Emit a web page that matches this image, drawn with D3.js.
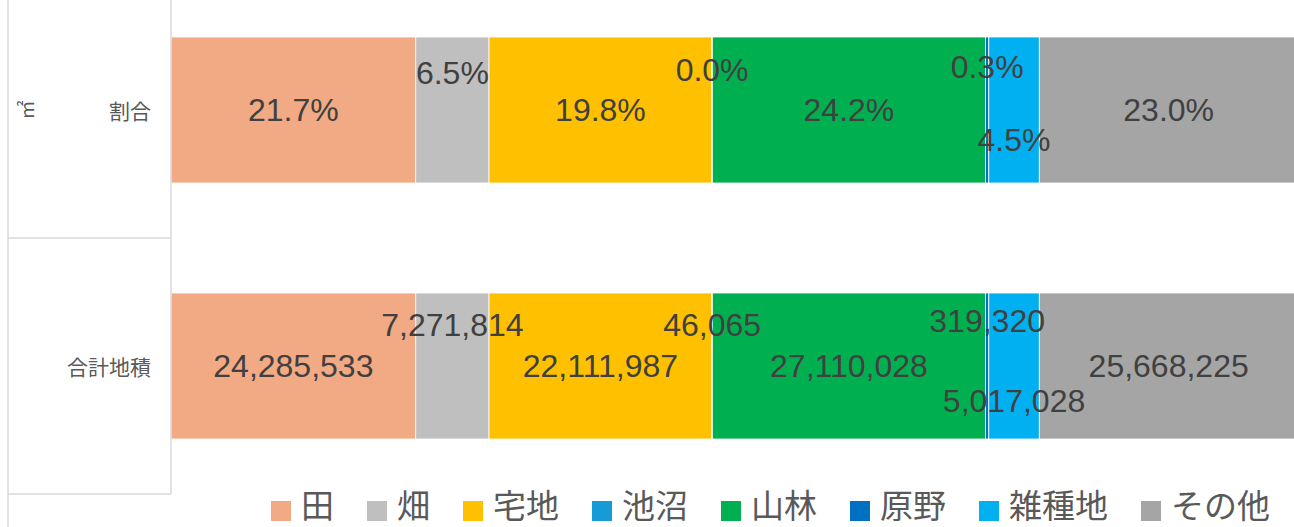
<!DOCTYPE html>
<html>
<head>
<meta charset="utf-8">
<script src="https://cdn.jsdelivr.net/npm/d3@7"></script>
<style>
  html, body { margin: 0; padding: 0; background: #fff; overflow: hidden; }
  svg { display: block; }
</style>
</head>
<body>
<svg id="chart" width="1294" height="527"></svg>
<script>
// ---- data ----
const categories = ["割合", "合計地積"];
const outerGroups = ["㎡", ""];
const seriesNames = ["田", "畑", "宅地", "池沼", "山林", "原野", "雑種地", "その他"];
const areaValues = [24285533, 7271814, 22111987, 46065, 27110028, 319320, 5017028, 25668225];
const percentLabels = ["21.7%", "6.5%", "19.8%", "0.0%", "24.2%", "0.3%", "4.5%", "23.0%"];
const seriesColors = ["#F2AA84", "#BFBFBF", "#FFC000", "#179BD7", "#00B050", "#0070C0", "#00B0F0", "#A5A5A5"];

// label vertical shifts (moved labels), per row
const labelShift = [
  [0, -37, 0, -40, 0, -43, 30, 0],
  [0, -41, 0, -41, 0, -45, 35, 0]
];

const svg = d3.select("#chart");
const total = d3.sum(areaValues);

const plotLeft = 171, plotRight = 1298, plotTop = -18, plotBottom = 494;
const x = d3.scaleLinear().domain([0, total]).range([plotLeft, plotRight]);
const y = d3.scaleBand().domain(categories).range([plotTop, plotBottom])
  .paddingInner(0.4297).paddingOuter(0.2148);

const gridColor = "#D9D9D9";
const textGray = "#595959";

// stacked data
const stacked = [];
categories.forEach((cat, ci) => {
  let acc = 0;
  areaValues.forEach((v, si) => {
    stacked.push({cat, ci, si, x0: acc, x1: acc + v,
      label: ci === 0 ? percentLabels[si] : d3.format(",")(v)});
    acc += v;
  });
});

// bars
svg.append("g").selectAll("rect").data(stacked).join("rect")
  .attr("x", d => x(d.x0))
  .attr("y", d => y(d.cat))
  .attr("width", d => Math.max(0, x(d.x1) - x(d.x0)))
  .attr("height", y.bandwidth())
  .attr("fill", d => seriesColors[d.si])
  .attr("stroke", "#ffffff")
  .attr("stroke-width", 0.8);

// category axis (multi-level) lines
const ax = svg.append("g").attr("stroke", gridColor).attr("stroke-width", 1.5).attr("fill", "none");
ax.append("line").attr("x1", plotLeft).attr("x2", plotLeft).attr("y1", plotTop).attr("y2", plotBottom);
ax.append("line").attr("x1", 8).attr("x2", 8).attr("y1", plotTop).attr("y2", 527);
const boundaries = [plotTop, (y("割合") + y.bandwidth() + y("合計地積")) / 2, plotBottom];
boundaries.forEach(b => {
  ax.append("line").attr("x1", 8).attr("x2", plotLeft).attr("y1", b).attr("y2", b);
});

// category labels
svg.append("g").selectAll("text").data(categories).join("text")
  .attr("x", 151)
  .attr("y", d => y(d) + y.bandwidth() / 2)
  .attr("text-anchor", "end")
  .attr("dominant-baseline", "central")
  .attr("font-family", "'Noto Sans CJK JP', 'Noto Sans', sans-serif")
  .attr("font-size", 21)
  .attr("fill", textGray)
  .text(d => d);

// outer group labels (rotated)
svg.append("g").selectAll("text").data(outerGroups).join("text")
  .attr("transform", (d, i) => `translate(25,${y(categories[i]) + y.bandwidth() / 2}) rotate(-90)`)
  .attr("text-anchor", "middle")
  .attr("dominant-baseline", "central")
  .attr("font-family", "'Noto Sans CJK JP', 'Noto Sans', sans-serif")
  .attr("font-size", 19)
  .attr("fill", textGray)
  .text(d => d);

// data labels
svg.append("g").selectAll("text").data(stacked).join("text")
  .attr("x", d => (x(d.x0) + x(d.x1)) / 2)
  .attr("y", d => y(d.cat) + y.bandwidth() / 2 + labelShift[d.ci][d.si])
  .attr("text-anchor", "middle")
  .attr("dominant-baseline", "central")
  .attr("font-family", "'Liberation Sans', Arial, sans-serif")
  .attr("font-size", 32)
  .attr("fill", "#404040")
  .text(d => d.label);

// legend
const legendFont = 33;
const legend = svg.append("g");
let lx = 271;
seriesNames.forEach((name, i) => {
  const g = legend.append("g").attr("transform", `translate(${lx},0)`);
  g.append("rect").attr("x", 0).attr("y", 501).attr("width", 20).attr("height", 20)
    .attr("fill", seriesColors[i]);
  g.append("text").attr("x", 30).attr("y", 517.5)
    .attr("font-family", "'Noto Sans CJK JP', 'Noto Sans', sans-serif")
    .attr("font-size", legendFont)
    .attr("fill", textGray)
    .text(name);
  lx += 20 + 10 + name.length * legendFont + 33;
});
</script>
</body>
</html>
